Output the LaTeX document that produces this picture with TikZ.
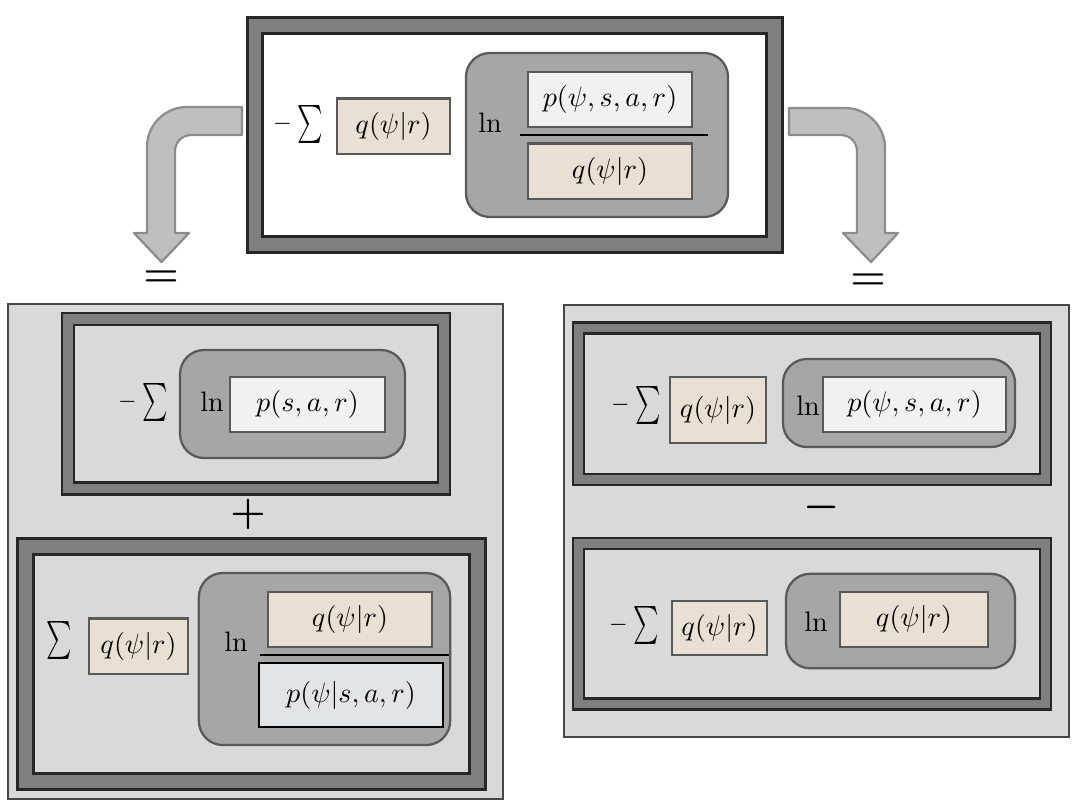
\documentclass[tikz,border=0pt]{standalone}
\usetikzlibrary{positioning,fit}

\definecolor{band}{HTML}{7F7F7F}
\definecolor{edge}{HTML}{262626}
\definecolor{panel}{HTML}{D9D9D9}
\definecolor{lnfill}{HTML}{A6A6A6}
\definecolor{lnedge}{HTML}{595959}
\definecolor{qfill}{HTML}{E8E0D3}
\definecolor{pfill}{HTML}{F1F1F1}
\definecolor{marble}{HTML}{E2E5E8}
\definecolor{arrfill}{HTML}{BFBFBF}
\definecolor{arredge}{HTML}{8C8C8C}

\newcommand{\bigsum}{\scalebox{0.86}[1.35]{$\sum$}}
\newcommand{\nsum}{\raisebox{2.2pt}{$\scriptstyle-$}\,\bigsum}

\begin{document}
\begin{tikzpicture}[x=0.0125cm, y=-0.0125cm,
      font=\normalsize,
      panelbox/.style={draw=edge!85, fill=panel, line width=0.8pt, inner sep=0pt},
      termframe/.style={draw=edge, line width=1pt, double=band, double distance=#1, fill=panel, inner sep=0pt},
      qbox/.style={draw=lnedge, fill=qfill, line width=0.8pt, inner sep=0pt, minimum height=0.69cm},
      pbox/.style={qbox, fill=pfill},
      mbox/.style={qbox, fill=marble, draw=black},
      logbox/.style={draw=lnedge, fill=lnfill, line width=0.8pt, rounded corners=0.3cm, inner sep=0pt},
      sumlbl/.style={font=\large, inner sep=0pt},
      sign/.style={font=\Large\boldmath},
      fracline/.style={line width=1pt},
      bigarrow/.style={draw=arredge, fill=arrfill, line width=0.8pt, line join=round}]
    \useasboundingbox (0,0) rectangle (1076,807);
    % bottom panels
    \node[panelbox, fit={(8,304) (503,799)}] (lpanel) {};
    \node[panelbox, fit={(564,305) (1069,737)}] (rpanel) {};
    % top term
    \node[termframe=4.5pt, fill=white, fit={(255,25.5) (774.5,244.5)}] (top) {};
    \node[sumlbl] (tsum) at (298,124) {\nsum};
    \node[qbox, minimum width=1.41cm] (tq) at (393.5,126) {$q(\psi|r)$};
    \node[logbox, minimum width=3.275cm, minimum height=2.05cm] (tlog) at (597,135) {};
    \node (tln) at (490,123) {$\ln$};
    \node[pbox, minimum width=2.05cm] (tp) at (610,99.5) {$p(\psi,s,a,r)$};
    \node[qbox, minimum width=2.05cm] (tq2) at (610,171) {$q(\psi|r)$};
    \coordinate (tfl) at (520,135);
    \coordinate (tfr) at (708,135);
    \draw[fracline] (tfl) -- (tfr);
    % bent arrows
    \draw[bigarrow] (242,107) [rounded corners=0.5cm] -- (147,107) -- (147,190) [sharp corners] -- (147,233) -- (134,233) -- (161.5,262) -- (189,233) -- (175,233) -- (175,170) [rounded corners=0.2cm] -- (175,135) -- (210,135) [sharp corners] -- (242,135) -- cycle;
    \draw[bigarrow] (789,108) [rounded corners=0.5cm] -- (885,108) -- (885,190) [sharp corners] -- (885,233) -- (898,233) -- (871,262) -- (843,233) -- (857,233) -- (857,170) [rounded corners=0.2cm] -- (857,135) -- (820,135) [sharp corners] -- (789,135) -- cycle;
    \node[sign] (eql) at (161,279) {$=$};
    \node[sign] (eqr) at (868,282) {$=$};
    % left: first term
    \node[termframe=3.3pt, fit={(68,319) (444,488.5)}] (l1) {};
    \node[sumlbl] (l1sum) at (143,402) {\nsum};
    \node[logbox, minimum width=2.81cm, minimum height=1.35cm] (l1log) at (292.5,404) {};
    \node (l1ln) at (212,402) {$\ln$};
    \node[pbox, minimum width=1.94cm] (l1p) at (307.5,404.5) {$p(s,a,r)$};
    \node[sign] (plus) at (248,514) {$+$};
    % left: second term
    \node[termframe=4.9pt, fit={(25.5,546.5) (477.5,781.5)}] (l2) {};
    \node[sumlbl] (l2sum) at (59,640) {\bigsum};
    \node[qbox, minimum width=1.24cm] (l2q) at (138.5,646) {$q(\psi|r)$};
    \node[logbox, minimum width=3.14cm, minimum height=2.15cm] (l2log) at (324.5,659) {};
    \node (l2ln) at (236,642) {$\ln$};
    \node[qbox, minimum width=2.05cm] (l2q2) at (350,619.5) {$q(\psi|r)$};
    \coordinate (l2fl) at (260,655);
    \coordinate (l2fr) at (449,655);
    \draw[fracline] (l2fl) -- (l2fr);
    \node[mbox, minimum width=2.30cm, minimum height=0.8cm] (l2m) at (351,695) {$p(\psi|s,a,r)$};
    % right: first term
    \node[termframe=2.9pt, fit={(578.5,328) (1045.5,479.5)}] (r1) {};
    \node[sumlbl] (r1sum) at (636,405) {\nsum};
    \node[qbox, minimum width=1.20cm, minimum height=0.83cm] (r1q) at (718,410) {$q(\psi|r)$};
    \node[logbox, minimum width=2.90cm, minimum height=1.10cm] (r1log) at (899,403) {};
    \node (r1ln) at (808,406) {$\ln$};
    \node[pbox, minimum width=2.29cm] (r1p) at (914.5,404.5) {$p(\psi,s,a,r)$};
    \node[sign] (minus) at (822,507) {$-$};
    % right: second term
    \node[termframe=2.9pt, fit={(578.5,543.5) (1045.5,704)}] (r2) {};
    \node[sumlbl] (r2sum) at (634,625) {\nsum};
    \node[qbox, minimum width=1.19cm, minimum height=0.68cm] (r2q) at (719.5,628) {$q(\psi|r)$};
    \node[logbox, minimum width=2.86cm, minimum height=1.18cm] (r2log) at (900.5,621) {};
    \node (r2ln) at (816,622) {$\ln$};
    \node[qbox, minimum width=1.85cm] (r2q2) at (914,619.5) {$q(\psi|r)$};
  \end{tikzpicture}
\end{document}
